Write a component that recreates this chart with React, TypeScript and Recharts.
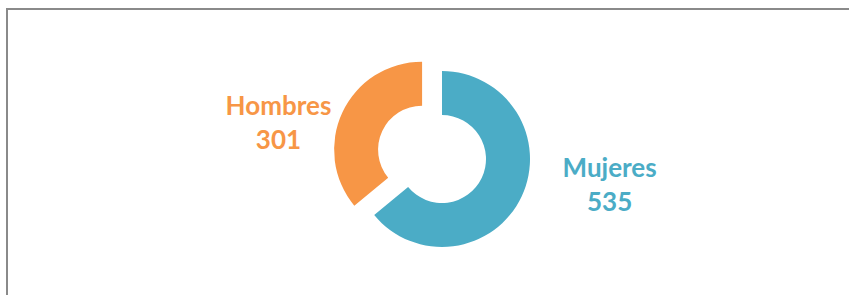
import React from "react";
import { Cell, Pie, PieChart } from "recharts";

const categories = ["Mujeres", "Hombres"];
const values = [535, 301];
const COLORS = ["#4BACC6", "#F79646"];
// slice that is pulled out of the ring (Hombres)
const exploded = [false, true];

const data = categories.map((name, i) => ({ name, value: values[i] }));

const WIDTH = 849;
const HEIGHT = 295;
const CX = 442;
const CY = 159;
const OUTER = 88;
const INNER = 44;
const EXPLODE = 22;
const RAD = Math.PI / 180;

// direction of the exploded slice, from its middle angle
const total = values.reduce((a, b) => a + b, 0);
function midAngleOf(index: number) {
    let before = 0;
    for (let i = 0; i < index; i++) before += values[i];
    return 90 - ((before + values[index] / 2) / total) * 360;
}

const explodeIndex = exploded.indexOf(true);
const exMid = midAngleOf(explodeIndex);
const EX_DX = EXPLODE * Math.cos(exMid * RAD);
const EX_DY = -EXPLODE * Math.sin(exMid * RAD);

function renderLabel(show: (i: number) => boolean) {
    return (props: any) => {
        const { cx, cy, midAngle, outerRadius, index, name, value } = props;
        if (!show(index)) return null;
        const x = cx + Math.cos(midAngle * RAD) * (outerRadius + 84) + 12;
        const y = cy - Math.sin(midAngle * RAD) * (outerRadius * 0.7);
        return (
            <text
                x={x}
                y={y}
                textAnchor="middle"
                fill={COLORS[index]}
                style={{ fontFamily: "Lato, 'Open Sans', sans-serif", fontWeight: 700, fontSize: 26 }}
            >
                <tspan x={x} y={y - 8}>{name}</tspan>
                <tspan x={x} y={y + 26}>{value}</tspan>
            </text>
        );
    };
}

export default function App() {
    return (
        <div style={{ position: "absolute", left: 0, top: 0, width: WIDTH, height: HEIGHT, overflow: "hidden", background: "#fff" }}>
            <div
                style={{
                    position: "absolute",
                    left: 6,
                    top: 8,
                    width: WIDTH + 20,
                    height: HEIGHT + 20,
                    border: "2px solid #8a8a8a",
                    boxSizing: "border-box",
                }}
            />
            <div style={{ position: "absolute", left: 0, top: 0 }}>
                <PieChart width={WIDTH} height={HEIGHT} margin={{ top: 0, right: 0, bottom: 0, left: 0 }}>
                    {/* ring without the exploded slice */}
                    <Pie
                        data={data}
                        dataKey="value"
                        cx={CX}
                        cy={CY}
                        innerRadius={INNER}
                        outerRadius={OUTER}
                        startAngle={90}
                        endAngle={-270}
                        stroke="none"
                        labelLine={false}
                        label={renderLabel((i) => !exploded[i])}
                        isAnimationActive={false}
                    >
                        {data.map((entry, index) => (
                            <Cell key={`cell-${index}`} fill={exploded[index] ? "none" : COLORS[index]} />
                        ))}
                    </Pie>
                    {/* exploded slice, same data, shifted centre */}
                    <Pie
                        data={data}
                        dataKey="value"
                        cx={CX + EX_DX}
                        cy={CY + EX_DY}
                        innerRadius={INNER}
                        outerRadius={OUTER}
                        startAngle={90}
                        endAngle={-270}
                        stroke="none"
                        labelLine={false}
                        label={renderLabel((i) => exploded[i])}
                        isAnimationActive={false}
                    >
                        {data.map((entry, index) => (
                            <Cell key={`cell-ex-${index}`} fill={exploded[index] ? COLORS[index] : "none"} />
                        ))}
                    </Pie>
                </PieChart>
            </div>
        </div>
    );
}
